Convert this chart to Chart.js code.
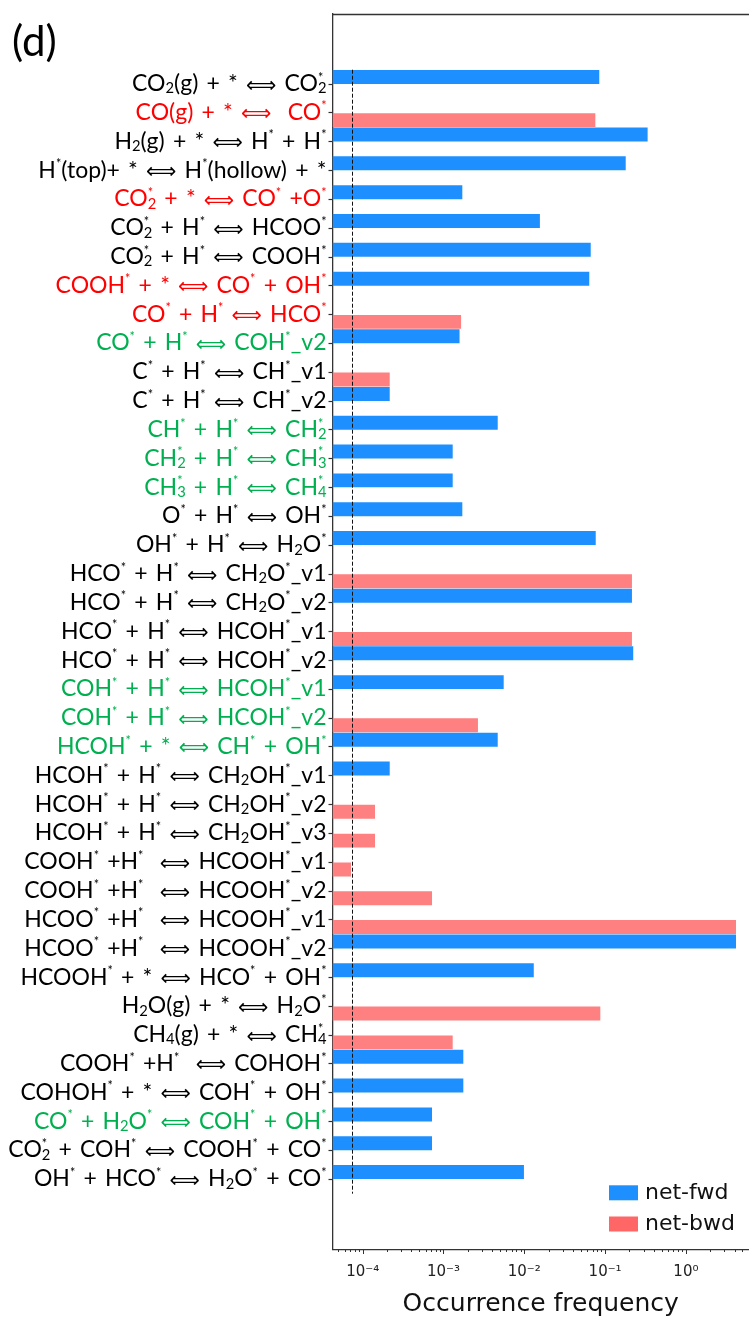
<!DOCTYPE html>
<html><head><meta charset="utf-8">
<script src="https://cdn.jsdelivr.net/npm/chart.js@4.4.0/dist/chart.umd.min.js"></script>
<style>html,body{margin:0;padding:0;background:#fff;overflow:hidden}#wrap{position:relative;width:749px;height:1317px}</style>
</head><body><div id="wrap"><canvas id="c" width="749" height="1317"></canvas></div>
<script>
// ~x = subscript char, ^x = superscript char
const reactions = [
  "CO~2(g) + * ⟺ CO~2^*",
  "CO(g) + * ⟺  CO^*",
  "H~2(g) + * ⟺ H^* + H^*",
  "H^*(top)+ * ⟺ H^*(hollow) + *",
  "CO~2^* + * ⟺ CO^* +O^*",
  "CO~2^* + H^* ⟺ HCOO^*",
  "CO~2^* + H^* ⟺ COOH^*",
  "COOH^* + * ⟺ CO^* + OH^*",
  "CO^* + H^* ⟺ HCO^*",
  "CO^* + H^* ⟺ COH^*_v2",
  "C^* + H^* ⟺ CH^*_v1",
  "C^* + H^* ⟺ CH^*_v2",
  "CH^* + H^* ⟺ CH~2^*",
  "CH~2^* + H^* ⟺ CH~3^*",
  "CH~3^* + H^* ⟺ CH~4^*",
  "O^* + H^* ⟺ OH^*",
  "OH^* + H^* ⟺ H~2O^*",
  "HCO^* + H^* ⟺ CH~2O^*_v1",
  "HCO^* + H^* ⟺ CH~2O^*_v2",
  "HCO^* + H^* ⟺ HCOH^*_v1",
  "HCO^* + H^* ⟺ HCOH^*_v2",
  "COH^* + H^* ⟺ HCOH^*_v1",
  "COH^* + H^* ⟺ HCOH^*_v2",
  "HCOH^* + * ⟺ CH^* + OH^*",
  "HCOH^* + H^* ⟺ CH~2OH^*_v1",
  "HCOH^* + H^* ⟺ CH~2OH^*_v2",
  "HCOH^* + H^* ⟺ CH~2OH^*_v3",
  "COOH^* +H^*  ⟺ HCOOH^*_v1",
  "COOH^* +H^*  ⟺ HCOOH^*_v2",
  "HCOO^* +H^*  ⟺ HCOOH^*_v1",
  "HCOO^* +H^*  ⟺ HCOOH^*_v2",
  "HCOOH^* + * ⟺ HCO^* + OH^*",
  "H~2O(g) + * ⟺ H~2O^*",
  "CH~4(g) + * ⟺ CH~4^*",
  "COOH^* +H^*  ⟺ COHOH^*",
  "COHOH^* + * ⟺ COH^* + OH^*",
  "CO^* + H~2O^* ⟺ COH^* + OH^*",
  "CO~2^* + COH^* ⟺ COOH^* + CO^*",
  "OH^* + HCO^* ⟺ H~2O^* + CO^*"
];
const labelColors = [
  "k","r","k","k","r","k","k","r","r","g",
  "k","k","g","g","g","k","k","k","k","k",
  "k","g","g","g","k","k","k","k","k","k",
  "k","k","k","k","k","k","g","k","k"
];
const netFwd = [
  0.0847, null, 0.336, 0.180, 0.00171, 0.0156, 0.0664, 0.0637, null, 0.00158,
  null, 0.000216, 0.00469, 0.0013, 0.0013, 0.00171, 0.0766, null, 0.215, null,
  0.223, 0.00556, null, 0.00469, 0.000216, null, null, null, null, null,
  4.17, 0.0131, null, null, 0.00176, 0.00176, 0.000721, 0.000721, 0.0099
];
const netBwd = [
  null, 0.0757, null, null, null, null, null, null, 0.00165, null,
  0.000216, null, null, null, null, null, null, 0.215, null, 0.215,
  null, null, 0.00267, null, null, 0.000142, 0.000142, 7.17e-5, 0.000721, 4.17,
  null, null, 0.0873, 0.0013, null, null, null, null, null
];
const seriesNames = ["net-fwd", "net-bwd"];
const threshold = 7.3e-5;
const majorTicks = [1e-4, 1e-3, 1e-2, 1e-1, 1];
const majorTickLabels = ["10⁻⁴", "10⁻³", "10⁻²", "10⁻¹", "10⁰"];
const xTitle = "Occurrence frequency";
const panelTag = "(d)";

const colorMap = {k: "#000000", r: "#FF0000", g: "#00B050"};
const FWD_COLOR = "#1E8FFF", BWD_COLOR = "#FF8080", BWD_LEGEND = "#FF6666";
const LABEL_FAMILY = "Lato, 'Noto Sans', sans-serif";
const ARROW_FAMILY = "'DejaVu Sans'";
const LABEL_SIZE = 23;
const EXTRA_SPACE = 0.1;
const ARROW = "⟺";

function parseRich(s){
  const segs = []; let i = 0;
  while (i < s.length){
    const c = s[i];
    if ((c === "~" || c === "^") && i + 1 < s.length){
      segs.push({t: s[i+1], type: c === "~" ? "sub" : "sup"}); i += 2;
    } else if (c === ARROW){
      segs.push({t: c, type: "arrow"}); i++;
    } else if (c === " "){
      segs.push({t: c, type: "space"}); i++;
    } else {
      let t = "";
      while (i < s.length && !"~^ ".includes(s[i]) && s[i] !== ARROW){ t += s[i]; i++; }
      segs.push({t, type: "n"});
    }
  }
  return segs;
}
function layoutRich(ctx, segs, size){
  const items = []; let x = 0; let lastSub = null;
  for (const s of segs){
    if (s.type === "space"){
      ctx.font = size + "px " + LABEL_FAMILY;
      x += ctx.measureText(" ").width + size*EXTRA_SPACE; lastSub = null;
    } else if (s.type === "n" || s.type === "arrow"){
      const font = s.type === "n" ? size + "px " + LABEL_FAMILY : (size*0.92).toFixed(2) + "px " + ARROW_FAMILY;
      ctx.font = font;
      const w = ctx.measureText(s.t).width;
      items.push({t: s.t, x, font, dy: s.type === "arrow" ? size*0.02 : 0}); x += w; lastSub = null;
    } else if (s.type === "sub"){
      const font = (size*0.64).toFixed(2) + "px " + LABEL_FAMILY; ctx.font = font;
      const w = ctx.measureText(s.t).width;
      const it = {t: s.t, x, font, dy: size*0.1, w}; items.push(it); x += w; lastSub = it;
    } else {
      const font = (size*0.55).toFixed(2) + "px " + LABEL_FAMILY; ctx.font = font;
      const w = ctx.measureText(s.t).width;
      if (lastSub){ items.push({t: s.t, x: lastSub.x, font, dy: -size*0.41}); x = Math.max(x, lastSub.x + w); lastSub = null; }
      else { items.push({t: s.t, x, font, dy: -size*0.41}); x += w; }
    }
  }
  return {items, width: x};
}

const decor = {
  id: "decor",
  afterDatasetsDraw(chart){
    const ctx = chart.ctx, xs = chart.scales.x, ys = chart.scales.y, a = chart.chartArea;
    ctx.save();
    const px = Math.round(xs.getPixelForValue(threshold)) + 0.5;
    ctx.strokeStyle = "#111"; ctx.lineWidth = 1; ctx.setLineDash([4, 2]);
    ctx.beginPath(); ctx.moveTo(px, ys.getPixelForValue(-0.5)); ctx.lineTo(px, ys.getPixelForValue(reactions.length - 0.5)); ctx.stroke();
    ctx.setLineDash([]);
    ctx.strokeStyle = "#333"; ctx.lineWidth = 1.3;
    ctx.beginPath(); ctx.moveTo(a.left, Math.round(a.top) + 0.5); ctx.lineTo(a.right, Math.round(a.top) + 0.5); ctx.stroke();
    ctx.lineWidth = 1;
    const yb = Math.round(a.bottom);
    for (let e = -5; e <= 1; e++){
      for (let m = 1; m <= 9; m++){
        const v = m * Math.pow(10, e);
        if (v < xs.min || v > xs.max) continue;
        const x = Math.round(xs.getPixelForValue(v)) + 0.5;
        const len = m === 1 ? 5 : 3;
        ctx.beginPath(); ctx.moveTo(x, yb); ctx.lineTo(x, yb + len); ctx.stroke();
      }
    }
    const lx = a.right - 140, rows = [a.bottom - 56.5, a.bottom - 25.3];
    const cols = [FWD_COLOR, BWD_LEGEND];
    ctx.font = "22px 'DejaVu Sans'"; ctx.textBaseline = "middle"; ctx.textAlign = "left";
    rows.forEach((ry, k) => {
      ctx.fillStyle = cols[k]; ctx.fillRect(lx, ry - 7.5, 29, 15);
      ctx.fillStyle = "#111"; ctx.fillText(seriesNames[k], lx + 36, ry);
    });
    ctx.restore();
  },
  afterDraw(chart){
    const ctx = chart.ctx, ys = chart.scales.y, a = chart.chartArea;
    ctx.save();
    ctx.textAlign = "left"; ctx.textBaseline = "alphabetic";
    reactions.forEach((lab, i) => {
      const y = ys.getPixelForValue(i) + 7;
      const lay = layoutRich(ctx, parseRich(lab), LABEL_SIZE);
      const x0 = a.left - 6 - lay.width;
      ctx.fillStyle = colorMap[labelColors[i]];
      for (const it of lay.items){ ctx.font = it.font; ctx.fillText(it.t, x0 + it.x, y + it.dy); }
    });
    ctx.fillStyle = "#000"; ctx.font = "42px " + LABEL_FAMILY;
    ctx.fillText(panelTag, 12, 56);
    ctx.restore();
  }
};

function build(){
  new Chart(document.getElementById("c"), {
    type: "bar",
    data: {
      datasets: [
        {label: seriesNames[0], data: netFwd.map((v, i) => ({x: v, y: i})), backgroundColor: FWD_COLOR},
        {label: seriesNames[1], data: netBwd.map((v, i) => ({x: v, y: i})), backgroundColor: BWD_COLOR}
      ]
    },
    options: {
      responsive: false, animation: false, devicePixelRatio: 1,
      indexAxis: "y",
      layout: {padding: {top: 13.5, left: 0, right: 0, bottom: 0}},
      plugins: {legend: {display: false}, tooltip: {enabled: false}},
      datasets: {bar: {categoryPercentage: 1, barPercentage: 0.97}},
      scales: {
        x: {
          type: "logarithmic", position: "bottom", min: 4.23e-5, max: 6.04,
          grid: {display: false, drawTicks: false},
          border: {display: true, color: "#333", width: 1.3},
          afterBuildTicks: s => { s.ticks = majorTicks.map(v => ({value: v, major: true})); },
          afterFit: s => { s.height = 67.7; },
          ticks: {callback: (v, i) => majorTickLabels[i], font: {family: "'DejaVu Sans'", size: 15}, color: "#222", padding: 14, maxRotation: 0, autoSkip: false},
          title: {display: true, text: xTitle, font: {family: "'DejaVu Sans'", size: 25, lineHeight: 1}, color: "#111", padding: {top: 0, bottom: 0}}
        },
        y: {
          type: "linear", reverse: true, offset: false, min: -2.45, max: 40.43,
          afterBuildTicks: s => { s.ticks = reactions.map((_, i) => ({value: i})); },
          afterFit: s => { s.width = 332.5; },
          ticks: {display: false},
          grid: {offset: false, drawOnChartArea: false, drawTicks: true, tickLength: 4, color: "#333", tickWidth: 1.2},
          border: {display: true, color: "#333", width: 1.3}
        }
      }
    },
    plugins: [decor]
  });
}
const fontsReady = document.fonts ? Promise.race([
  Promise.all(["23px Lato", "15px 'DejaVu Sans'"].map(f => document.fonts.load(f))),
  new Promise(r => setTimeout(r, 800))
]) : Promise.resolve();
fontsReady.then(build, build);
</script>
</body></html>
